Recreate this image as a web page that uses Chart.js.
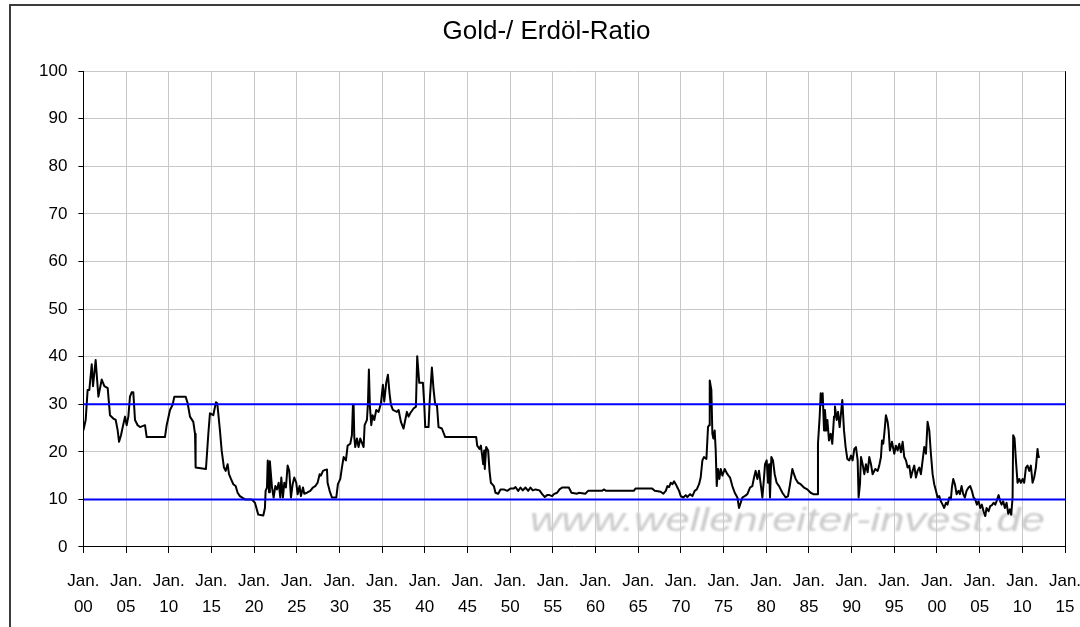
<!DOCTYPE html>
<html>
<head>
<meta charset="utf-8">
<script src="https://cdn.jsdelivr.net/npm/chart.js@4.4.0/dist/chart.umd.min.js"></script>
<style>
  html, body { margin: 0; padding: 0; background: #fff; overflow: hidden; }
  #wrap { width: 1100px; height: 640px; }
</style>
</head>
<body>
<div id="wrap"><canvas id="ratioChart" width="1100" height="640"></canvas></div>
<script>
// x axis labels, one per 5 years from Jan. 1900 to Jan. 2015
const tickLabels = ['00', '05', '10', '15', '20', '25', '30', '35', '40', '45', '50', '55',
                    '60', '65', '70', '75', '80', '85', '90', '95', '00', '05', '10', '15'];

// the two blue bands
const upperBand = 30;
const lowerBand = 10;

// gold / oil ratio, [year, ratio]
const ratioPoints = [
  [1900.0, 24.5], [1900.27, 26.7], [1900.5, 33.0], [1900.7, 33.0], [1900.98, 38.4], [1901.13, 33.8],
  [1901.44, 39.3], [1901.76, 31.6], [1902.15, 35.2], [1902.46, 33.8], [1902.85, 33.4], [1903.12, 27.7],
  [1903.51, 27.0], [1903.79, 26.7], [1904.02, 24.5], [1904.18, 22.1], [1904.41, 23.5], [1904.61, 25.2],
  [1904.88, 27.4], [1905.07, 25.6], [1905.27, 27.4], [1905.46, 31.6], [1905.66, 32.5], [1905.85, 32.5],
  [1906.05, 26.7], [1906.36, 25.6], [1906.64, 25.2], [1907.22, 25.6], [1907.42, 23.1], [1909.56, 23.1],
  [1909.76, 25.6], [1910.15, 28.8], [1910.46, 29.9], [1910.66, 31.6], [1911.98, 31.6], [1912.22, 30.2],
  [1912.49, 27.4], [1912.88, 26.3], [1913.08, 23.8], [1913.15, 16.7], [1914.36, 16.4], [1914.64, 23.8],
  [1914.83, 28.1], [1915.22, 27.7], [1915.53, 30.4], [1915.69, 30.2], [1916.0, 24.5], [1916.2, 20.3],
  [1916.47, 16.7], [1916.67, 16.0], [1916.9, 17.4], [1917.06, 15.3], [1917.29, 14.3], [1917.56, 13.2],
  [1917.84, 12.8], [1918.07, 11.4], [1918.34, 10.7], [1918.93, 10.0], [1919.71, 10.0], [1920.1, 9.3],
  [1920.49, 6.8], [1921.08, 6.6], [1921.27, 8.2], [1921.35, 11.8], [1921.51, 12.5], [1921.6, 18.2],
  [1921.75, 11.5], [1921.85, 18.0], [1922.1, 12.5], [1922.29, 10.4], [1922.49, 12.8], [1922.68, 12.1],
  [1922.88, 13.5], [1923.07, 10.4], [1923.19, 14.6], [1923.38, 10.4], [1923.54, 13.5], [1923.73, 12.5],
  [1923.93, 17.1], [1924.12, 16.0], [1924.32, 10.4], [1924.52, 13.2], [1924.71, 14.6], [1924.94, 13.5],
  [1925.1, 11.1], [1925.33, 12.8], [1925.49, 10.7], [1925.73, 12.5], [1925.88, 11.2], [1926.19, 11.4],
  [1926.58, 11.8], [1926.9, 12.5], [1927.17, 12.8], [1927.44, 13.5], [1927.68, 15.3], [1927.83, 15.0],
  [1928.07, 16.0], [1928.34, 16.2], [1928.54, 16.3], [1928.61, 13.5], [1928.85, 11.8], [1929.12, 10.4],
  [1929.63, 10.4], [1929.82, 13.2], [1930.1, 14.3], [1930.29, 16.7], [1930.49, 18.9], [1930.76, 18.2],
  [1930.96, 21.3], [1931.27, 21.7], [1931.46, 23.5], [1931.58, 29.9], [1931.66, 29.9], [1931.74, 23.1],
  [1931.85, 21.0], [1932.05, 22.8], [1932.24, 21.0], [1932.44, 22.8], [1932.83, 21.0], [1932.95, 25.6],
  [1933.22, 26.7], [1933.34, 30.2], [1933.45, 37.3], [1933.57, 29.5], [1933.73, 25.6], [1933.88, 27.7],
  [1934.08, 26.7], [1934.31, 28.8], [1934.59, 28.4], [1934.86, 30.2], [1935.09, 34.1], [1935.25, 30.6],
  [1935.48, 34.5], [1935.68, 36.2], [1935.87, 32.3], [1936.03, 29.9], [1936.26, 28.8], [1936.73, 28.4],
  [1936.93, 28.8], [1937.2, 26.3], [1937.51, 24.9], [1937.71, 26.7], [1937.9, 28.4], [1938.1, 27.4],
  [1938.29, 28.1], [1938.68, 29.1], [1938.96, 29.5], [1939.11, 40.1], [1939.35, 34.5], [1939.78, 34.5],
  [1939.93, 30.2], [1940.05, 25.2], [1940.44, 25.2], [1940.56, 30.2], [1940.83, 37.7], [1941.03, 33.0],
  [1941.22, 29.9], [1941.42, 29.9], [1941.61, 25.2], [1942.0, 24.9], [1942.39, 23.1], [1946.02, 23.1],
  [1946.14, 21.3], [1946.41, 20.6], [1946.57, 21.3], [1946.72, 19.2], [1946.84, 17.4], [1946.96, 20.3],
  [1947.03, 16.4], [1947.19, 21.0], [1947.42, 20.3], [1947.58, 16.0], [1947.74, 13.5], [1947.89, 13.2],
  [1948.09, 12.8], [1948.28, 11.4], [1948.6, 11.2], [1948.87, 12.1], [1949.26, 12.1], [1949.65, 11.8],
  [1950.04, 12.3], [1950.43, 12.3], [1950.62, 12.6], [1950.94, 11.8], [1951.21, 12.5], [1951.48, 11.9],
  [1951.8, 12.5], [1952.11, 11.8], [1952.38, 12.5], [1952.65, 11.9], [1952.97, 12.1], [1953.44, 11.9],
  [1953.75, 11.1], [1954.06, 10.5], [1954.33, 10.9], [1954.61, 10.9], [1954.92, 10.7], [1955.11, 11.1],
  [1955.5, 11.4], [1955.78, 12.1], [1956.09, 12.5], [1956.87, 12.5], [1957.18, 11.4], [1957.85, 11.2],
  [1958.04, 11.4], [1958.82, 11.2], [1959.13, 11.8], [1960.77, 11.8], [1960.97, 12.1], [1961.24, 11.8],
  [1964.48, 11.8], [1964.68, 12.3], [1966.63, 12.3], [1966.94, 11.8], [1967.64, 11.6], [1967.95, 11.2],
  [1968.23, 11.8], [1968.42, 12.8], [1968.62, 12.6], [1968.81, 13.5], [1969.01, 13.2], [1969.2, 13.8],
  [1969.4, 13.2], [1969.59, 12.5], [1969.79, 11.8], [1969.98, 10.7], [1970.29, 10.4], [1970.57, 10.9],
  [1970.76, 10.5], [1971.08, 11.1], [1971.35, 10.7], [1971.62, 11.8], [1971.86, 12.1], [1972.13, 13.2],
  [1972.32, 14.6], [1972.52, 18.2], [1972.71, 18.9], [1972.99, 18.5], [1973.18, 25.2], [1973.3, 25.6],
  [1973.38, 35.0], [1973.57, 33.0], [1973.69, 23.8], [1973.81, 22.8], [1973.96, 24.5], [1974.08, 20.3],
  [1974.2, 12.8], [1974.35, 16.4], [1974.51, 14.3], [1974.67, 16.4], [1974.86, 15.0], [1975.13, 16.4],
  [1975.45, 15.3], [1975.76, 14.6], [1976.03, 12.8], [1976.31, 11.4], [1976.62, 10.4], [1976.81, 8.2],
  [1977.01, 9.3], [1977.2, 10.4], [1977.48, 10.7], [1977.79, 11.1], [1978.1, 12.5], [1978.37, 12.8],
  [1978.57, 14.6], [1978.76, 16.0], [1978.96, 14.3], [1979.15, 16.0], [1979.35, 13.2], [1979.55, 10.4],
  [1979.74, 14.6], [1979.86, 17.4], [1980.05, 18.2], [1980.21, 13.5], [1980.33, 17.4], [1980.44, 10.4],
  [1980.6, 18.9], [1980.79, 18.2], [1980.99, 15.3], [1981.22, 13.5], [1981.5, 12.8], [1981.89, 11.4],
  [1982.28, 10.4], [1982.55, 10.7], [1982.79, 13.2], [1983.06, 16.4], [1983.25, 15.3], [1983.45, 14.3],
  [1983.72, 13.5], [1984.03, 13.2], [1984.42, 12.5], [1984.81, 12.1], [1985.2, 11.4], [1985.52, 11.1],
  [1985.99, 11.1], [1986.06, 21.7], [1986.26, 27.4], [1986.38, 32.3], [1986.49, 29.9], [1986.61, 32.3],
  [1986.77, 24.5], [1986.88, 28.8], [1987.04, 24.5], [1987.16, 26.7], [1987.35, 22.4], [1987.55, 23.8],
  [1987.74, 21.7], [1987.94, 27.4], [1988.05, 29.5], [1988.25, 26.7], [1988.41, 28.4], [1988.6, 25.2],
  [1988.72, 27.4], [1988.91, 30.9], [1989.11, 24.5], [1989.3, 21.0], [1989.5, 18.5], [1989.73, 18.2],
  [1989.93, 19.2], [1990.12, 18.2], [1990.32, 20.6], [1990.51, 21.0], [1990.71, 18.2], [1990.82, 10.4],
  [1990.98, 13.2], [1991.1, 18.9], [1991.29, 17.4], [1991.49, 15.3], [1991.68, 17.4], [1991.88, 15.7],
  [1992.07, 18.9], [1992.27, 17.4], [1992.46, 15.3], [1992.77, 16.4], [1993.05, 16.0], [1993.24, 17.1],
  [1993.44, 18.9], [1993.56, 22.4], [1993.71, 21.7], [1993.83, 23.8], [1994.02, 27.7], [1994.22, 26.3],
  [1994.34, 24.5], [1994.49, 20.3], [1994.73, 22.1], [1995.0, 19.6], [1995.19, 21.3], [1995.39, 20.3],
  [1995.59, 21.7], [1995.78, 19.9], [1995.98, 22.1], [1996.17, 18.9], [1996.37, 18.2], [1996.56, 16.7],
  [1996.76, 17.1], [1996.95, 14.6], [1997.15, 16.0], [1997.34, 17.1], [1997.54, 14.6], [1997.73, 16.0],
  [1997.93, 16.7], [1998.12, 15.3], [1998.32, 18.2], [1998.51, 21.0], [1998.71, 19.6], [1998.9, 26.3],
  [1999.1, 24.5], [1999.29, 19.6], [1999.49, 15.3], [1999.68, 13.2], [1999.88, 11.8], [2000.07, 10.4],
  [2000.27, 10.7], [2000.46, 9.6], [2000.66, 8.9], [2000.85, 8.2], [2001.05, 9.3], [2001.24, 8.9],
  [2001.44, 10.4], [2001.63, 10.0], [2001.75, 12.5], [2001.91, 14.3], [2002.1, 13.2], [2002.3, 11.1],
  [2002.53, 11.8], [2002.69, 11.1], [2002.88, 12.8], [2003.08, 11.1], [2003.27, 10.4], [2003.47, 11.8],
  [2003.7, 12.5], [2003.9, 12.8], [2004.09, 11.8], [2004.29, 10.4], [2004.48, 10.0], [2004.68, 8.9],
  [2004.87, 9.6], [2005.07, 8.2], [2005.26, 8.9], [2005.46, 7.5], [2005.66, 6.5], [2005.81, 8.2],
  [2006.05, 7.5], [2006.24, 8.6], [2006.44, 8.8], [2006.63, 9.3], [2006.83, 8.9], [2007.02, 9.8],
  [2007.22, 10.9], [2007.41, 9.6], [2007.57, 8.9], [2007.76, 9.6], [2007.96, 8.2], [2008.15, 9.3],
  [2008.35, 7.0], [2008.54, 7.9], [2008.7, 6.8], [2008.86, 10.4], [2008.93, 23.5], [2009.09, 22.8],
  [2009.25, 18.2], [2009.44, 13.5], [2009.64, 14.3], [2009.83, 13.5], [2010.03, 14.3], [2010.22, 13.5],
  [2010.42, 16.7], [2010.61, 17.1], [2010.81, 16.0], [2011.0, 17.1], [2011.2, 13.5], [2011.39, 14.6],
  [2011.59, 16.7], [2011.78, 20.6], [2011.9, 18.9], [2012.05, 19.0]
];

const FONT = "'Liberation Sans', Arial, sans-serif";

// white page, dark outer frame like the Excel chart border
const framePlugin = {
  id: 'frame',
  beforeDraw(chart) {
    const ctx = chart.ctx;
    ctx.save();
    ctx.fillStyle = '#fff';
    ctx.fillRect(0, 0, chart.width, chart.height);
    ctx.strokeStyle = '#3c3c3c';
    ctx.lineWidth = 2;
    ctx.strokeRect(10, 5, chart.width + 20, chart.height + 20);
    ctx.restore();
  }
};

// grey site watermark under the line
const watermarkPlugin = {
  id: 'watermark',
  beforeDatasetsDraw(chart) {
    const ctx = chart.ctx;
    const text = 'www.wellenreiter-invest.de';
    ctx.save();
    ctx.font = 'italic 34px ' + FONT;
    const w = ctx.measureText(text).width;
    ctx.translate(530, 531);
    ctx.scale(515 / w, 1);
    ctx.filter = 'blur(1.1px)';
    ctx.fillStyle = '#cacaca';
    ctx.textBaseline = 'alphabetic';
    ctx.fillText(text, 0, 0);
    ctx.restore();
  }
};

new Chart(document.getElementById('ratioChart'), {
  type: 'line',
  data: {
    datasets: [{
      data: [{x: 1900, y: upperBand}, {x: 2015, y: upperBand}],
      borderColor: '#0000ff',
      borderWidth: 2
    }, {
      data: [{x: 1900, y: lowerBand}, {x: 2015, y: lowerBand}],
      borderColor: '#0000ff',
      borderWidth: 2
    }, {
      data: ratioPoints.map(p => ({x: p[0], y: p[1]})),
      label: 'Gold-/ Erdöl-Ratio',
      borderColor: '#000',
      borderWidth: 2
    }]
  },
  options: {
    responsive: false,
    animation: false,
    layout: { padding: { left: 28, right: 35, top: 0, bottom: 5 } },
    elements: {
      point: { radius: 0 },
      line: { tension: 0, fill: false, borderJoinStyle: 'round' }
    },
    plugins: {
      legend: { display: false },
      tooltip: { enabled: false },
      title: {
        display: true,
        text: 'Gold-/ Erdöl-Ratio',
        color: '#000',
        font: { family: FONT, size: 26, weight: 'normal', lineHeight: 1.2 },
        padding: { top: 16, bottom: 24 }
      }
    },
    scales: {
      x: {
        type: 'linear',
        min: 1900,
        max: 2015,
        border: { color: '#000', width: 1 },
        grid: {
          color: c => (c.tick && c.tick.value === 2015) ? '#000' : '#c8c8c8',
          tickColor: '#000',
          tickLength: 6
        },
        ticks: {
          stepSize: 5,
          autoSkip: false,
          maxRotation: 0,
          minRotation: 0,
          color: '#000',
          padding: 15,
          font: { family: FONT, size: 17, lineHeight: 1.53 },
          callback: (v, i) => ['Jan.', tickLabels[i]]
        }
      },
      y: {
        min: 0,
        max: 100,
        border: { color: '#000', width: 1 },
        grid: { color: '#c8c8c8', tickColor: '#000', tickLength: 5 },
        ticks: {
          stepSize: 10,
          color: '#000',
          padding: 11,
          font: { family: FONT, size: 17 }
        }
      }
    }
  },
  plugins: [framePlugin, watermarkPlugin]
});
</script>
</body>
</html>
